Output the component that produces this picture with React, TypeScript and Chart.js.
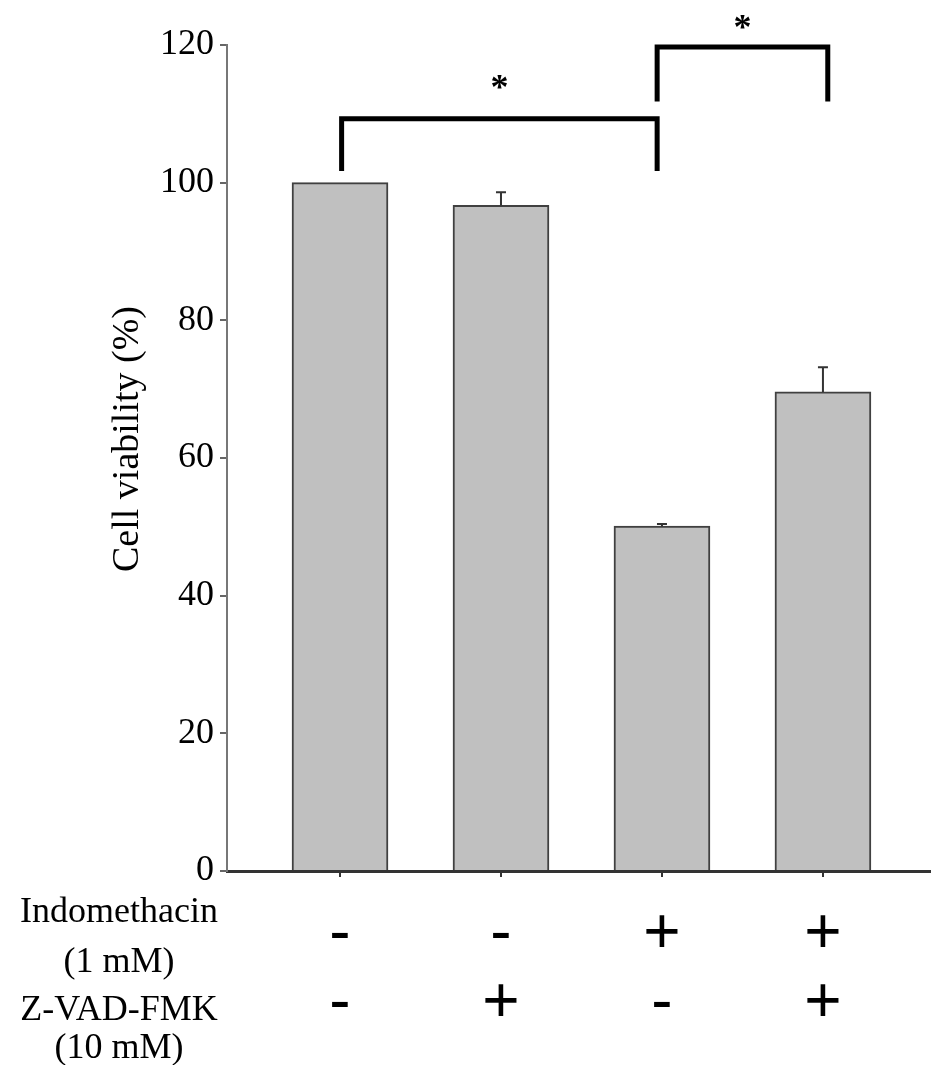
import React, { useEffect, useRef } from "react";
import { Chart, registerables } from "chart.js";

Chart.register(...registerables);

// ---- data ----
const groups = ["Control", "Z-VAD-FMK", "Indomethacin", "Indomethacin + Z-VAD-FMK"];
const indomethacinRow = ["-", "-", "+", "+"];
const zvadRow = ["-", "+", "-", "+"];
const viability = [100, 96.7, 50.1, 69.6];
const errorUp = [0, 1.9, 0.3, 3.6];
const rowLabels = ["Indomethacin", "(1 mM)", "Z-VAD-FMK", "(10 mM)"];
const yTitle = "Cell viability (%)";
// significance brackets: category positions, bar top, leg ends, star height
const bracketFrom = [1.01, 2.97];
const bracketTo = [2.97, 4.03];
const bracketTop = [109.3, 119.7];
const bracketLeg = [101.7, 111.8];
const starLevel = [114.6, 123.4];

export default function App() {
  const ref = useRef<HTMLCanvasElement | null>(null);

  useEffect(() => {
    const canvas = ref.current;
    if (!canvas) return;

    const overlay = {
      id: "overlay",
      afterDatasetsDraw(chart: any) {
        const ctx = chart.ctx;
        const xs = chart.scales.x;
        const ys = chart.scales.y;
        ctx.save();
        // error bars (upper only)
        ctx.strokeStyle = "#333";
        ctx.lineWidth = 2;
        viability.forEach((v, i) => {
          if (errorUp[i] <= 0) return;
          const x = xs.getPixelForValue(i + 1);
          const y0 = ys.getPixelForValue(v);
          const y1 = ys.getPixelForValue(v + errorUp[i]);
          ctx.beginPath();
          ctx.moveTo(x, y0);
          ctx.lineTo(x, y1);
          ctx.moveTo(x - 5, y1);
          ctx.lineTo(x + 5, y1);
          ctx.stroke();
        });
        ctx.restore();
      },
      afterDraw(chart: any) {
        const ctx = chart.ctx;
        const xs = chart.scales.x;
        const ys = chart.scales.y;
        ctx.save();
        // brackets
        ctx.strokeStyle = "#000";
        ctx.lineWidth = 5;
        ctx.lineJoin = "miter";
        ctx.lineCap = "butt";
        bracketFrom.forEach((f, i) => {
          const x1 = xs.getPixelForValue(f);
          const x2 = xs.getPixelForValue(bracketTo[i]);
          const yt = ys.getPixelForValue(bracketTop[i]);
          const yl = ys.getPixelForValue(bracketLeg[i]);
          ctx.beginPath();
          ctx.moveTo(x1, yl);
          ctx.lineTo(x1, yt);
          ctx.lineTo(x2, yt);
          ctx.lineTo(x2, yl);
          ctx.stroke();
          // star
          ctx.fillStyle = "#000";
          ctx.font = "bold 36px 'Liberation Serif'";
          ctx.textAlign = "center";
          ctx.textBaseline = "alphabetic";
          const m = ctx.measureText("*");
          const cy = ys.getPixelForValue(starLevel[i]);
          const base = cy + (m.actualBoundingBoxAscent - m.actualBoundingBoxDescent) / 2;
          ctx.fillText("*", (x1 + x2) / 2, base);
        });
        // y title
        ctx.fillStyle = "#000";
        ctx.font = "38px 'Liberation Serif'";
        ctx.textAlign = "center";
        ctx.textBaseline = "middle";
        ctx.save();
        ctx.translate(128, 439);
        ctx.rotate(-Math.PI / 2);
        ctx.fillText(yTitle, 0, 0);
        ctx.restore();
        // row labels
        ctx.font = "36px 'Liberation Serif'";
        ctx.textAlign = "center";
        ctx.textBaseline = "alphabetic";
        const baselines = [922, 972, 1020, 1058];
        rowLabels.forEach((t, i) => ctx.fillText(t, 119, baselines[i]));
        ctx.restore();
      },
    };

    const chart = new Chart(canvas, {
      type: "bar",
      data: {
        datasets: [
          {
            data: viability.map((v, i) => ({ x: i + 1, y: v })),
            backgroundColor: "#c0c0c0",
            borderColor: "#404040",
            borderWidth: 2,
            barThickness: 96,
          },
        ],
      },
      options: {
        responsive: false,
        animation: false,
        layout: { padding: { top: 45, right: 3, left: 0, bottom: 0 } },
        plugins: { legend: { display: false }, tooltip: { enabled: false } },
        scales: {
          x: {
            type: "linear",
            offset: false,
            min: 0.298,
            max: 4.665,
            afterBuildTicks: (s: any) => {
              s.ticks = groups.map((_, i) => ({ value: i + 1 }));
            },
            afterFit: (s: any) => {
              s.height = 194;
            },
            grid: {
              offset: false,
              drawOnChartArea: false,
              drawTicks: true,
              tickLength: 6,
              tickColor: "#333",
              lineWidth: 2,
            },
            border: { color: "#333", width: 3 },
            ticks: {
              autoSkip: false,
              maxRotation: 0,
              padding: 24,
              color: "#000",
              font: { family: "'Liberation Sans'", size: 64, lineHeight: 1.08 },
              callback: (v: any) => {
                const i = Math.round(Number(v)) - 1;
                return [indomethacinRow[i], zvadRow[i]];
              },
            },
          },
          y: {
            min: 0,
            max: 120,
            afterFit: (s: any) => {
              s.width = 227;
            },
            grid: { drawOnChartArea: false, drawTicks: true, tickLength: 7, tickColor: "#666", lineWidth: 2 },
            border: { color: "#777", width: 2 },
            ticks: {
              stepSize: 20,
              padding: 6,
              color: "#000",
              font: { family: "'Liberation Serif'", size: 36 },
            },
          },
        },
      },
      plugins: [overlay],
    } as any);

    return () => chart.destroy();
  }, []);

  return (
    <div style={{ position: "fixed", left: 0, top: 0, width: 933, height: 1065, background: "#fff" }}>
      <canvas ref={ref} width={933} height={1065} style={{ display: "block" }} />
    </div>
  );
}
